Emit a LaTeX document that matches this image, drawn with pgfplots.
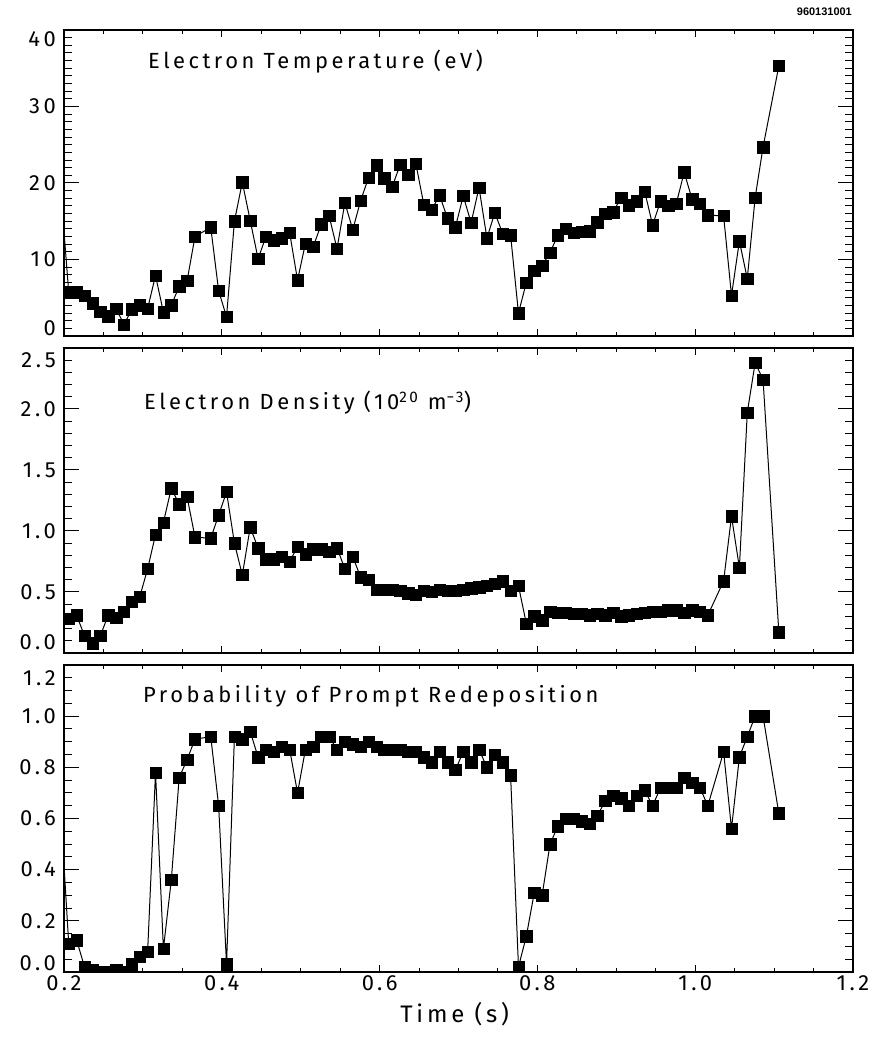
\documentclass[border=0pt]{standalone}
\usepackage{fontspec}
\setmainfont{Fira Sans}[LetterSpace=16]
\newfontfamily\idfont{Liberation Sans}
\usepackage{pgfplots}
\pgfplotsset{compat=1.18}

\pgfplotstableread{
t Te
0.198 16.3
0.206 5.7
0.216 5.7
0.226 5.3
0.236 4.3
0.246 3.2
0.256 2.6
0.266 3.6
0.276 1.5
0.286 3.5
0.296 4.0
0.306 3.6
0.316 7.9
0.326 3.1
0.336 4.0
0.346 6.5
0.356 7.2
0.366 13.0
0.386 14.2
0.396 5.9
0.406 2.5
0.416 15.0
0.426 20.1
0.436 15.1
0.446 10.1
0.456 13.0
0.466 12.5
0.476 12.8
0.486 13.5
0.496 7.3
0.506 12.1
0.516 11.7
0.526 14.6
0.536 15.7
0.546 11.4
0.556 17.4
0.566 13.9
0.576 17.7
0.586 20.7
0.596 22.3
0.606 20.6
0.616 19.5
0.626 22.4
0.636 21.1
0.646 22.5
0.656 17.2
0.666 16.5
0.676 18.4
0.686 15.4
0.696 14.2
0.706 18.3
0.716 14.8
0.726 19.4
0.736 12.8
0.746 16.1
0.756 13.4
0.766 13.2
0.776 3.0
0.786 7.0
0.796 8.5
0.806 9.2
0.816 10.9
0.826 13.2
0.836 14.0
0.846 13.5
0.856 13.6
0.866 13.7
0.876 14.9
0.886 16.0
0.896 16.2
0.906 18.1
0.916 17.1
0.926 17.6
0.936 18.9
0.946 14.5
0.956 17.6
0.966 17.0
0.976 17.3
0.986 21.4
0.996 17.9
1.006 17.3
1.016 15.8
1.036 15.7
1.046 5.3
1.056 12.4
1.066 7.5
1.076 18.1
1.086 24.7
1.106 35.3
}\temptable

\pgfplotstableread{
t ne
0.206 0.28
0.216 0.31
0.226 0.14
0.236 0.08
0.246 0.14
0.256 0.31
0.266 0.29
0.276 0.34
0.286 0.42
0.296 0.46
0.306 0.69
0.316 0.97
0.326 1.07
0.336 1.35
0.346 1.22
0.356 1.28
0.366 0.95
0.386 0.94
0.396 1.13
0.406 1.32
0.416 0.90
0.426 0.64
0.436 1.03
0.446 0.86
0.456 0.77
0.466 0.77
0.476 0.79
0.486 0.75
0.496 0.87
0.506 0.81
0.516 0.85
0.526 0.85
0.536 0.83
0.546 0.86
0.556 0.69
0.566 0.79
0.576 0.62
0.586 0.60
0.596 0.52
0.606 0.52
0.616 0.52
0.626 0.51
0.636 0.49
0.646 0.48
0.656 0.51
0.666 0.50
0.676 0.52
0.686 0.51
0.696 0.51
0.706 0.52
0.716 0.53
0.726 0.54
0.736 0.55
0.746 0.57
0.756 0.59
0.766 0.51
0.776 0.55
0.786 0.24
0.796 0.30
0.806 0.27
0.816 0.34
0.826 0.33
0.836 0.33
0.846 0.32
0.856 0.32
0.866 0.31
0.876 0.32
0.886 0.31
0.896 0.33
0.906 0.30
0.916 0.31
0.926 0.32
0.936 0.33
0.946 0.34
0.956 0.34
0.966 0.35
0.976 0.35
0.986 0.33
0.996 0.35
1.006 0.34
1.016 0.31
1.036 0.59
1.046 1.12
1.056 0.70
1.066 1.97
1.076 2.38
1.086 2.24
1.106 0.17
}\denstable

\pgfplotstableread{
t p
0.198 0.52
0.206 0.11
0.216 0.125
0.226 0.02
0.236 0.01
0.246 0.0
0.256 0.0
0.266 0.01
0.276 0.0
0.286 0.03
0.296 0.06
0.306 0.08
0.316 0.78
0.326 0.09
0.336 0.36
0.346 0.76
0.356 0.83
0.366 0.91
0.386 0.92
0.396 0.65
0.406 0.03
0.416 0.92
0.426 0.91
0.436 0.94
0.446 0.84
0.456 0.87
0.466 0.86
0.476 0.88
0.486 0.87
0.496 0.70
0.506 0.87
0.516 0.88
0.526 0.92
0.536 0.92
0.546 0.87
0.556 0.90
0.566 0.89
0.576 0.88
0.586 0.90
0.596 0.88
0.606 0.87
0.616 0.87
0.626 0.87
0.636 0.86
0.646 0.86
0.656 0.84
0.666 0.82
0.676 0.86
0.686 0.82
0.696 0.79
0.706 0.86
0.716 0.82
0.726 0.87
0.736 0.80
0.746 0.85
0.756 0.82
0.766 0.77
0.776 0.02
0.786 0.14
0.796 0.31
0.806 0.30
0.816 0.50
0.826 0.57
0.836 0.60
0.846 0.60
0.856 0.59
0.866 0.58
0.876 0.61
0.886 0.67
0.896 0.69
0.906 0.68
0.916 0.65
0.926 0.69
0.936 0.71
0.946 0.65
0.956 0.72
0.966 0.72
0.976 0.72
0.986 0.76
0.996 0.74
1.006 0.72
1.016 0.65
1.036 0.86
1.046 0.56
1.056 0.84
1.066 0.92
1.076 1.00
1.086 1.00
1.106 0.62
}\probtable

% end labels pulled inward, as IDL does: #1 last tick index, #2 / #3 twice the shift
\newcommand{\ylab}[3]{%
  \ifnum\ticknum=0 \raisebox{0pt}[\height][\dimexpr\depth+#2\relax]{\axisdefaultticklabel}%
  \else\ifnum\ticknum=#1 \raisebox{0pt}[\dimexpr\height+#3\relax][\depth]{\axisdefaultticklabel}%
  \else\axisdefaultticklabel\fi\fi}

\pgfplotsset{
  panel/.style={
    scale only axis, width=789bp,
    xmin=0.2, xmax=1.2,
    xtick={0.2,0.4,0.6,0.8,1.0,1.2}, minor x tick num=3,
    tick align=inside,
    axis line style={line width=1.6bp},
    every tick/.style={black, line width=1bp},
    xtick style={/pgfplots/major tick length=7bp, /pgfplots/minor tick length=4bp},
    ytick style={/pgfplots/major tick length=15bp, /pgfplots/minor tick length=8bp},
    tick label style={font=\fontsize{22}{26}\selectfont, inner sep=0pt},
    /pgf/number format/assume math mode=true,
    yticklabel style={xshift=-8bp},
    clip marker paths=true,
    anchor=south west,
  },
  ser/.style={black, line width=1bp, mark=square*, mark size=5.7bp,
    mark options={line width=0.4bp, fill=black}},
}

\begin{document}
\begin{tikzpicture}
\useasboundingbox (0,0) rectangle (876bp,1053bp);

% temperature
\begin{axis}[panel, at={(64bp,717bp)}, height=306bp,
  ymin=0, ymax=40, ytick={0,10,20,30,40}, minor y tick num=9,
  yticklabel={\ylab{4}{16bp}{18bp}},
  xticklabels={}]
  \addplot[ser] table[x=t, y=Te] {\temptable};
\end{axis}

% density
\begin{axis}[panel, at={(64bp,400bp)}, height=305bp,
  ymin=0, ymax=2.5, ytick={0,0.5,1.0,1.5,2.0,2.5}, minor y tick num=4,
  yticklabel style={/pgf/number format/.cd, fixed, fixed zerofill, precision=1},
  yticklabel={\ylab{5}{22bp}{24bp}},
  xticklabels={}]
  \addplot[ser] table[x=t, y=ne] {\denstable};
\end{axis}

% prompt redeposition
\begin{axis}[panel, at={(64bp,81bp)}, height=307bp,
  ymin=0, ymax=1.2, ytick={0,0.2,0.4,0.6,0.8,1.0,1.2}, minor y tick num=3,
  yticklabel style={/pgf/number format/.cd, fixed, fixed zerofill, precision=1},
  yticklabel={\ylab{6}{18bp}{26bp}},
  xticklabel style={yshift=-3bp, /pgf/number format/.cd, fixed, fixed zerofill, precision=1},
  xlabel={Time (s)},
  xlabel style={font=\fontsize{24}{28}\selectfont, at={(axis description cs:0.495,0)}, anchor=base, yshift=-50bp}]
  \addplot[ser] table[x=t, y=p] {\probtable};
\end{axis}

\node[anchor=base west, inner sep=0pt, font=\fontsize{22}{26}\selectfont] at (148bp,984bp) {Electron Temperature (eV)};
\node[anchor=base west, inner sep=0pt, font=\fontsize{22}{26}\selectfont] at (144bp,643bp) {Electron Density (10\textsuperscript{20} m\textsuperscript{−3})};
\node[anchor=base west, inner sep=0pt, font=\fontsize{22}{26}\selectfont] at (143bp,350bp) {Probability of Prompt Redeposition};
\node[anchor=east, inner sep=0pt, font=\idfont\bfseries\fontsize{11}{13}\selectfont] at (852bp,1041bp) {960131001};
\end{tikzpicture}
\end{document}
